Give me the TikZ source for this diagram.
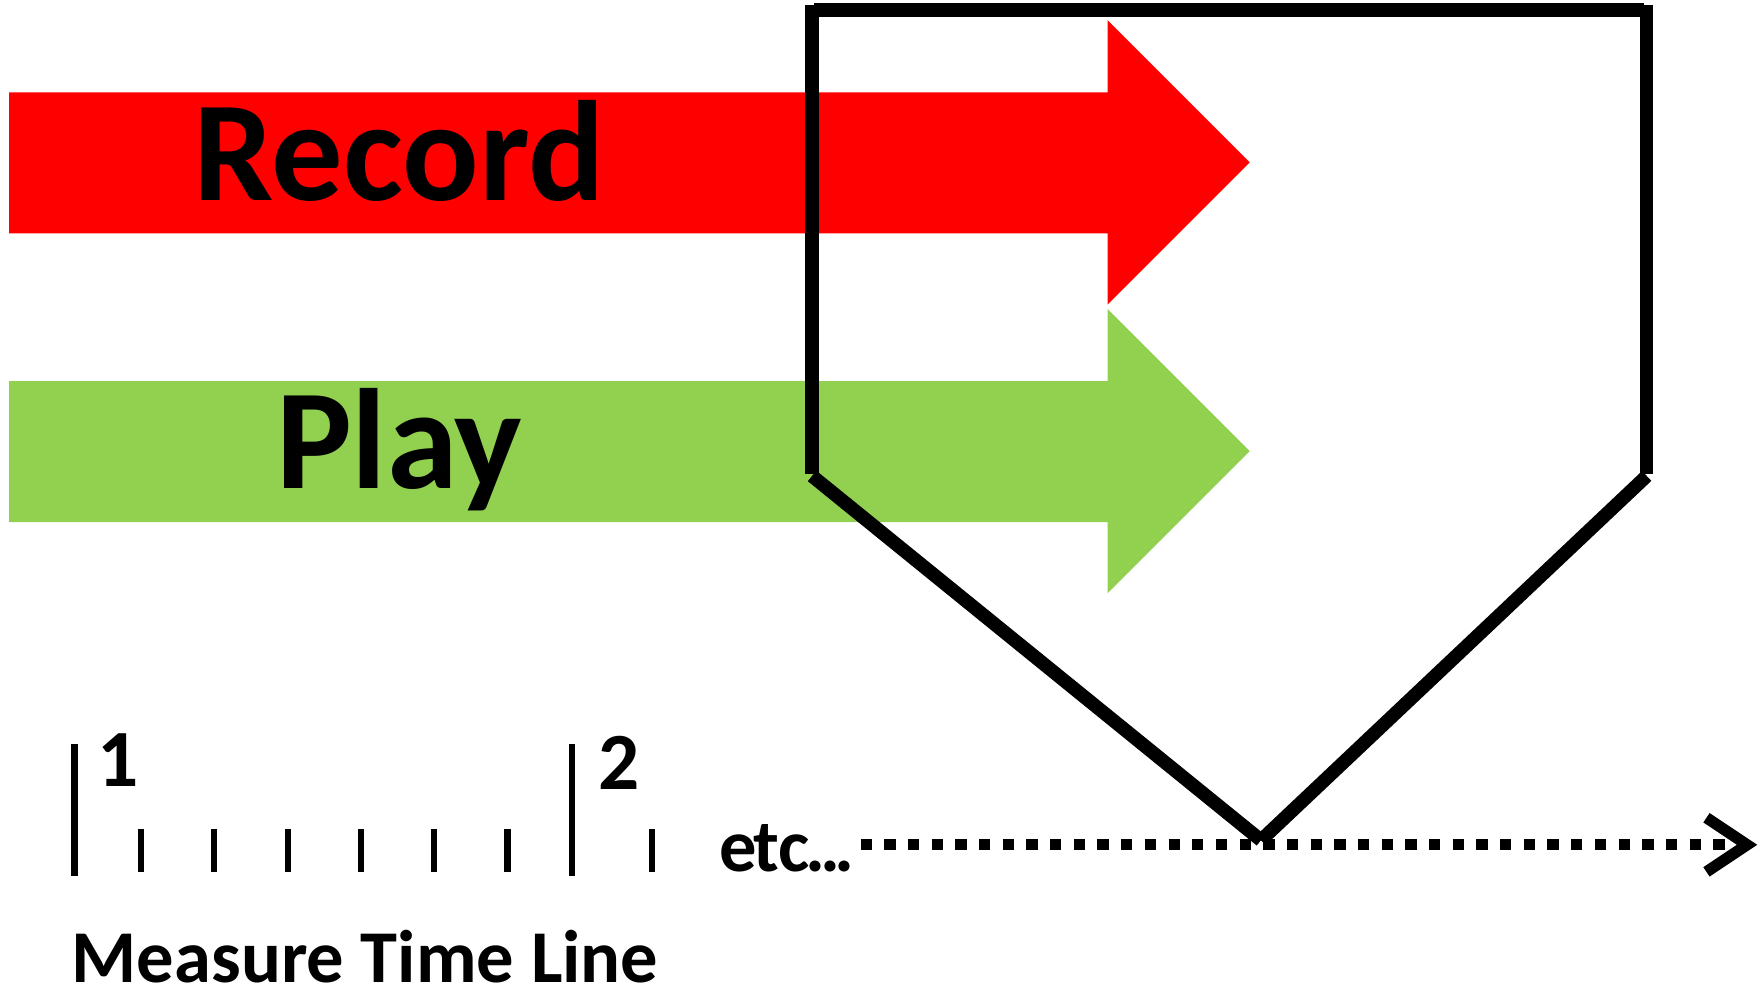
\documentclass[tikz,border=0pt]{standalone}
\usepackage{fontspec}
\setmainfont{Carlito}
\usetikzlibrary{arrows.meta}
\definecolor{recred}{HTML}{FF0000}
\definecolor{playgreen}{HTML}{92D050}
\tikzset{
	bigtxt/.style={black, inner sep=0pt, font=\fontsize{36}{40}\selectfont\bfseries},
	smalltxt/.style={black, inner sep=0pt, font=\fontsize{18.8}{22}\selectfont\bfseries},
	numtxt/.style={black, inner sep=0pt, font=\fontsize{20.5}{24}\selectfont\bfseries},
	plate/.style={draw=black, line width=0.12cm, line cap=butt},
	tick/.style={draw=black, line width=0.055cm},
	dotline/.style={draw=black, line width=0.10cm, dash pattern=on 0.10cm off 0.11cm}
}
\begin{document}
\begin{tikzpicture}
	\useasboundingbox (0.00,0.00) rectangle (15.64,-8.78);
	% arrows
	\fill[recred] (0.08,-0.82) -- (9.82,-0.82) -- (9.82,-0.18) -- (11.08,-1.44) -- (9.82,-2.70) -- (9.82,-2.07) -- (0.08,-2.07) -- cycle;
	\fill[playgreen] (0.08,-3.38) -- (9.82,-3.38) -- (9.82,-2.74) -- (11.08,-4.00) -- (9.82,-5.26) -- (9.82,-4.63) -- (0.08,-4.63) -- cycle;
	\node[bigtxt, anchor=base] (record) at (3.54,-1.78) {Record};
	\node[bigtxt, anchor=base] (play) at (3.54,-4.33) {Play};
	% plate
	\coordinate (tl) at (7.20,-0.09);
	\coordinate (tr) at (14.60,-0.09);
	\coordinate (bl) at (7.20,-4.20);
	\coordinate (br) at (14.60,-4.20);
	\coordinate (bot) at (11.18,-7.45);
	\draw[plate] ([xshift=0.02cm]tl) -- ([xshift=-0.02cm]tr);
	\draw[plate] ([yshift=0.05cm]tl) -- (bl);
	\draw[plate] ([yshift=0.05cm]tr) -- (br);
	\draw[plate] ([yshift=-0.02cm]bl) -- (bot);
	\draw[plate] ([yshift=-0.02cm]br) -- (bot);
	% time line
	\draw[tick] (0.66,-6.60) -- (0.66,-7.77);
	\draw[tick] (5.07,-6.60) -- (5.07,-7.77);
	\draw[tick] (1.25,-7.35) -- (1.25,-7.73);
	\draw[tick] (1.90,-7.35) -- (1.90,-7.73);
	\draw[tick] (2.55,-7.35) -- (2.55,-7.73);
	\draw[tick] (3.20,-7.35) -- (3.20,-7.73);
	\draw[tick] (3.85,-7.35) -- (3.85,-7.73);
	\draw[tick] (4.50,-7.35) -- (4.50,-7.73);
	\draw[tick] (5.78,-7.35) -- (5.78,-7.73);
	\node[numtxt, anchor=base west] (one) at (0.86,-6.97) {1};
	\node[numtxt, anchor=base west] (two) at (5.30,-7.00) {2};
	\node[smalltxt, anchor=base west] (etc) at (6.37,-7.73) {e\kern-0.04em t\kern-0.02em c\kern-0.05em.\kern-0.07em.\kern-0.07em.};
	\node[smalltxt, anchor=base west] (mtl) at (0.63,-8.71) {Measure Time Line};
	\coordinate (dotstart) at (7.63,-7.49);
	\coordinate (timeend) at (15.58,-7.49);
	\draw[dotline, -{Straight Barb[length=0.36cm, width=0.48cm, line width=0.10cm]}] (dotstart) -- (timeend);
\end{tikzpicture}
\end{document}
